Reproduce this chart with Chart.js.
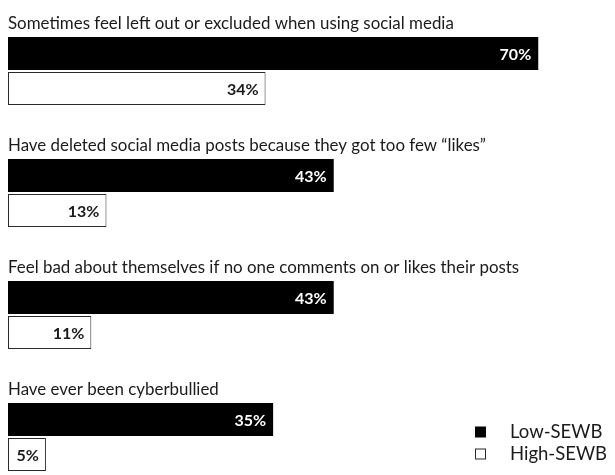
<!DOCTYPE html>
<html>
<head>
<meta charset="utf-8">
<script src="https://cdn.jsdelivr.net/npm/chart.js@4"></script>
<style>
    body { margin: 0; background: #fff; }
    canvas { display: block; }
</style>
</head>
<body>
<canvas id="chartSewb" width="615" height="475"></canvas>
<script>
// Question labels, one per group
const categories = [
    'Sometimes feel left out or excluded when using social media',
    'Have deleted social media posts because they got too few \u201clikes\u201d',
    'Feel bad about themselves if no one comments on or likes their posts',
    'Have ever been cyberbullied'
];
const seriesNames = ['Low-SEWB', 'High-SEWB'];
const lowSewb = [70, 43, 43, 35];
const highSewb = [34, 13, 11, 5];

const TEXT_COLOR = '#1b1b1b';
const FONT = 'Lato, "Noto Sans", sans-serif';

// Question text above each group + value labels inside the bars
const barText = {
    id: 'barText',
    afterDatasetsDraw(chart) {
        const ctx = chart.ctx;
        ctx.save();

        const lowMeta = chart.getDatasetMeta(0);
        ctx.fillStyle = TEXT_COLOR;
        ctx.font = '16.9px ' + FONT;
        ctx.textAlign = 'left';
        ctx.textBaseline = 'alphabetic';
        lowMeta.data.forEach((bar, i) => {
            const top = bar.y - bar.height / 2;
            ctx.fillText(chart.data.labels[i], chart.chartArea.left, top - 8);
        });

        ctx.font = 'bold 16px ' + FONT;
        ctx.textAlign = 'right';
        ctx.textBaseline = 'middle';
        chart.data.datasets.forEach((ds, d) => {
            ctx.fillStyle = d === 0 ? '#ffffff' : TEXT_COLOR;
            chart.getDatasetMeta(d).data.forEach((bar, i) => {
                ctx.fillText(ds.data[i] + '%', bar.x - 7, bar.y + 1);
            });
        });
        ctx.restore();
    }
};

// Small legend in the lower right corner
const cornerLegend = {
    id: 'cornerLegend',
    afterDraw(chart) {
        const ctx = chart.ctx;
        ctx.save();
        ctx.font = '18.5px ' + FONT;
        ctx.textAlign = 'left';
        ctx.textBaseline = 'middle';
        chart.data.datasets.forEach((ds, d) => {
            const y = 432 + d * 22;
            ctx.fillStyle = ds.backgroundColor;
            ctx.fillRect(475.5, y - 5, 10, 10);
            ctx.strokeStyle = ds.borderColor;
            ctx.lineWidth = 1;
            ctx.strokeRect(475.5, y - 5, 10, 10);
            ctx.fillStyle = TEXT_COLOR;
            ctx.fillText(ds.label, 510, y);
        });
        ctx.restore();
    }
};

const ctx = document.getElementById('chartSewb').getContext('2d');
new Chart(ctx, {
    type: 'bar',
    data: {
        labels: categories,
        datasets: [{
            label: seriesNames[0],
            data: lowSewb,
            backgroundColor: '#000000',
            borderColor: '#000000',
            borderWidth: 0,
            clip: false
        }, {
            label: seriesNames[1],
            data: highSewb,
            backgroundColor: '#ffffff',
            borderColor: '#2a2a2a',
            borderWidth: 1,
            borderSkipped: false,
            clip: false
        }]
    },
    options: {
        indexAxis: 'y',
        responsive: false,
        animation: false,
        devicePixelRatio: 1,
        categoryPercentage: 0.574,
        barPercentage: 0.94,
        layout: { padding: { left: 8, right: 1, top: 71, bottom: 38 } },
        scales: {
            x: { min: 0, max: 80, display: false },
            y: { offset: false, display: false }
        },
        plugins: {
            legend: { display: false },
            tooltip: { enabled: false }
        }
    },
    plugins: [barText, cornerLegend]
});
</script>
</body>
</html>
